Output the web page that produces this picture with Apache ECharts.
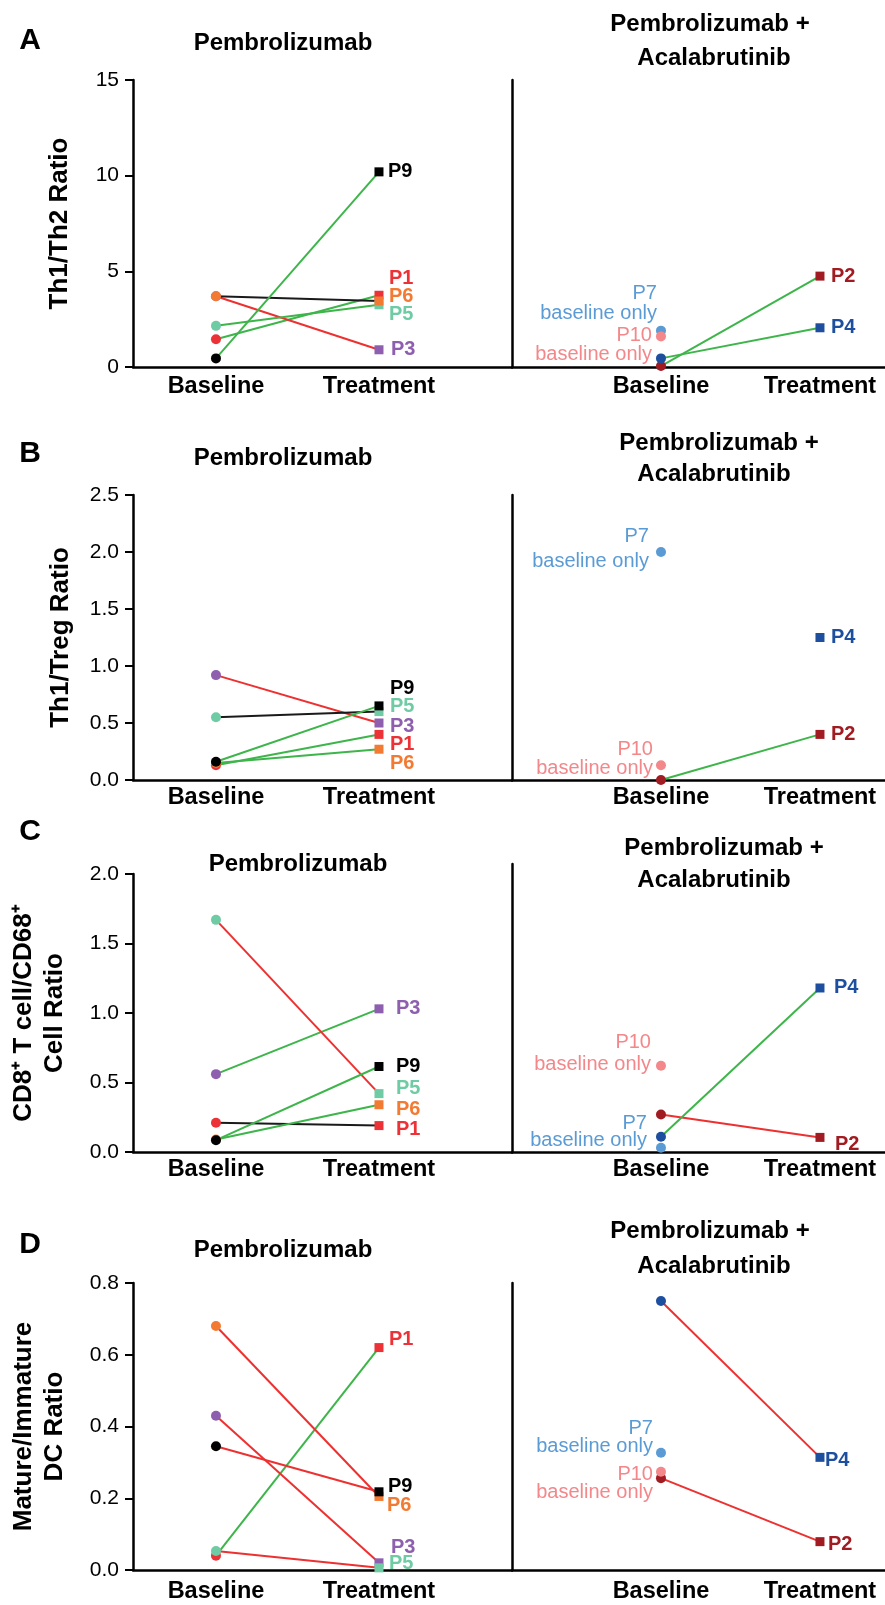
<!DOCTYPE html>
<html><head><meta charset="utf-8">
<script src="https://cdn.jsdelivr.net/npm/echarts@6/dist/echarts.min.js"></script>
<style>html,body{margin:0;padding:0;background:#fff}#chart{width:885px;height:1605px}</style>
</head><body><div id="chart"></div>
<script>
// ---------------- DATA ----------------
const xCategories = ['Baseline', 'Treatment'];

// Panel A: Th1/Th2 Ratio
const aTicks = [0, 5, 10, 15];
const aPembroPatients = ['P1', 'P3', 'P5', 'P6', 'P9'];
const aPembroBaseline = [1.45, 3.7, 2.15, 3.7, 0.45];
const aPembroTreatment = [3.75, 0.9, 3.25, 3.45, 10.2];
const aComboPatients = ['P2', 'P4', 'P7', 'P10'];
const aComboBaseline = [0.05, 0.45, 1.9, 1.6];
const aComboTreatment = [4.75, 2.05, null, null];

// Panel B: Th1/Treg Ratio
const bTicks = [0, 0.5, 1.0, 1.5, 2.0, 2.5];
const bPembroPatients = ['P1', 'P3', 'P5', 'P6', 'P9'];
const bPembroBaseline = [0.13, 0.92, 0.55, 0.15, 0.16];
const bPembroTreatment = [0.40, 0.50, 0.60, 0.27, 0.65];
const bComboPatients = ['P2', 'P4', 'P7', 'P10'];
const bComboBaseline = [0.0, null, 2.0, 0.13];
const bComboTreatment = [0.40, 1.25, null, null];

// Panel C: CD8+ T cell / CD68+ cell ratio
const cTicks = [0, 0.5, 1.0, 1.5, 2.0];
const cPembroPatients = ['P1', 'P3', 'P5', 'P6', 'P9'];
const cPembroBaseline = [0.21, 0.56, 1.67, 0.09, 0.085];
const cPembroTreatment = [0.19, 1.03, 0.42, 0.34, 0.615];
const cComboPatients = ['P2', 'P4', 'P7', 'P10'];
const cComboBaseline = [0.27, 0.11, 0.03, 0.62];
const cComboTreatment = [0.105, 1.18, null, null];

// Panel D: Mature/Immature DC ratio
const dTicks = [0, 0.2, 0.4, 0.6, 0.8];
const dPembroPatients = ['P1', 'P3', 'P5', 'P6', 'P9'];
const dPembroBaseline = [0.04, 0.43, 0.053, 0.68, 0.345];
const dPembroTreatment = [0.62, 0.02, 0.006, 0.205, 0.218];
const dComboPatients = ['P2', 'P4', 'P7', 'P10'];
const dComboBaseline = [0.256, 0.75, 0.327, 0.274];
const dComboTreatment = [0.079, 0.314, null, null];

// ---------------- STYLE / LAYOUT ----------------
const FONT = "'Liberation Sans', Arial, Helvetica, sans-serif";
const patientColors = {
  P1: '#ec3237', P2: '#a01c22', P3: '#8d5fae', P4: '#1e4f9f', P5: '#6fcba4',
  P6: '#f37a32', P7: '#5b9bd5', P9: '#000000', P10: '#f3878a'
};
const trendColors = { up: '#3db54a', down: '#ed3030', flat: '#1a1a1a' };

const panels = [
  { key: 'A', yName: 'Th1/Th2 Ratio', ticks: aTicks,
    left: { patients: aPembroPatients, base: aPembroBaseline, treat: aPembroTreatment },
    right: { patients: aComboPatients, base: aComboBaseline, treat: aComboTreatment } },
  { key: 'B', yName: 'Th1/Treg Ratio', ticks: bTicks,
    left: { patients: bPembroPatients, base: bPembroBaseline, treat: bPembroTreatment },
    right: { patients: bComboPatients, base: bComboBaseline, treat: bComboTreatment } },
  { key: 'C', yName: 'CD8\u207A T cell/CD68\u207A\nCell Ratio', ticks: cTicks,
    left: { patients: cPembroPatients, base: cPembroBaseline, treat: cPembroTreatment },
    right: { patients: cComboPatients, base: cComboBaseline, treat: cComboTreatment } },
  { key: 'D', yName: 'Mature/Immature\nDC Ratio', ticks: dTicks,
    left: { patients: dPembroPatients, base: dPembroBaseline, treat: dPembroTreatment },
    right: { patients: dComboPatients, base: dComboBaseline, treat: dComboTreatment } }
];

const layout = {
  A: { top: 80, height: 287, rTop: 80, rHeight: 287, nameGap: 58, dec: 0, xMargin: 8,
       letterY: 41, titleX: 283, titleY: 43, t1X: 710, t1Y: 24, t2X: 714, t2Y: 58 },
  B: { top: 495, height: 285, rTop: 495, rHeight: 285, nameGap: 57, dec: 1, xMargin: 6,
       letterY: 454, titleX: 283, titleY: 458, t1X: 719, t1Y: 443, t2X: 714, t2Y: 474 },
  C: { top: 874, height: 278, rTop: 864, rHeight: 288, nameGap: 63, dec: 1, xMargin: 6,
       letterY: 832, titleX: 298, titleY: 864, t1X: 724, t1Y: 848, t2X: 714, t2Y: 880 },
  D: { top: 1283, height: 287, rTop: 1283, rHeight: 287, nameGap: 63, dec: 1, xMargin: 10,
       letterY: 1245, titleX: 283, titleY: 1250, t1X: 710, t1Y: 1231, t2X: 714, t2Y: 1266 }
};
// treatment label offsets [dx of left edge from point centre, dy]
const treatLabelOffsets = {
  A: { P1: [10, -17], P3: [12, 0], P5: [10, 10], P6: [10, -5], P9: [9, 0], P2: [11, 0], P4: [11, 0] },
  B: { P9: [11, -17], P5: [11, -5], P3: [11, 3], P1: [11, 10], P6: [11, 14], P4: [11, 0], P2: [11, 0] },
  C: { P3: [17, 0], P9: [17, 0], P5: [17, -5], P6: [17, 5], P1: [17, 4], P4: [14, 0], P2: [15, 7] },
  D: { P1: [10, -8], P9: [9, -5], P6: [8, 9], P3: [12, -15], P5: [10, -4], P4: [5, 3], P2: [8, 3] }
};
// baseline-only label offsets [dx of right edge from centre, dy of block centre, lineHeight]
const baseOnlyOffsets = {
  A: { P7: [-4, -27, 20], P10: [-9, 9, 19] },
  B: { P7: [-12, -3, 25], P10: [-8, -6.5, 19] },
  C: { P7: [-14, -16, 17], P10: [-10, -12, 21.7] },
  D: { P7: [-8, -15, 18], P10: [-8, 12, 18] }
};
const xRangeLeft = { min: -0.509, max: 1.816 };
const xRangeRight = { min: -0.937, max: 1.409 };

// ---------------- BUILD ----------------
const grid = [], xAxis = [], yAxis = [], series = [], graphic = [];

function trendOf(b, t) {
  if (Math.abs(t - b) / Math.max(Math.abs(b), 1e-9) < 0.15) return 'flat';
  return t > b ? 'up' : 'down';
}

panels.forEach((p, k) => {
  const L = layout[p.key];
  const yMin = p.ticks[0], yMax = p.ticks[p.ticks.length - 1];
  const interval = p.ticks[1] - p.ticks[0];
  grid.push({ left: 133, top: L.top, width: 379, height: L.height });
  grid.push({ left: 512, top: L.rTop, width: 373, height: L.rHeight });
  [xRangeLeft, xRangeRight].forEach((r, j) => {
    xAxis.push({
      type: 'value', gridIndex: 2 * k + j, min: r.min, max: r.max,
      axisLine: { show: true, onZero: false, lineStyle: { color: '#000', width: 2.5 } },
      axisTick: { show: false }, splitLine: { show: false },
      axisLabel: {
        customValues: [0, 1],
        formatter: v => (v === 0 || v === 1) ? xCategories[v] : '',
        fontSize: 23.5, fontWeight: 'bold', color: '#000', fontFamily: FONT, margin: L.xMargin
      }
    });
  });
  yAxis.push({
    type: 'value', gridIndex: 2 * k, min: yMin, max: yMax, interval: interval,
    name: p.yName, nameLocation: 'middle', nameRotate: 90, nameGap: L.nameGap,
    nameTextStyle: { fontSize: 26, fontWeight: 'bold', color: '#000', fontFamily: FONT, lineHeight: 31 },
    axisLine: { show: true, onZero: false, lineStyle: { color: '#000', width: 2.5 } },
    axisTick: { show: true, length: 8, lineStyle: { color: '#000', width: 2 } },
    splitLine: { show: false },
    axisLabel: { fontSize: 21, color: '#000', fontFamily: FONT, margin: 14,
                 formatter: v => v.toFixed(L.dec) }
  });
  yAxis.push({
    type: 'value', gridIndex: 2 * k + 1, min: yMin, max: yMax * L.rHeight / L.height,
    axisLine: { show: true, onZero: false, lineStyle: { color: '#000', width: 2.5 } },
    axisTick: { show: false }, axisLabel: { show: false }, splitLine: { show: false }
  });

  [p.left, p.right].forEach((grp, j) => {
    grp.patients.forEach((name, i) => {
      const b = grp.base[i], t = grp.treat[i];
      const color = patientColors[name];
      const data = [];
      const both = b != null && t != null;
      if (b != null) {
        const item = { value: [0, b], symbol: 'circle', symbolSize: 10, itemStyle: { color } };
        if (t == null) {
          const o = baseOnlyOffsets[p.key][name];
          item.label = {
            show: true, formatter: name + '\nbaseline only', position: 'left', distance: 0,
            offset: [o[0] + 5, o[1]], align: 'right', verticalAlign: 'middle',
            fontSize: 20, lineHeight: o[2], color, fontFamily: FONT, fontWeight: 'normal'
          };
        }
        data.push(item);
      }
      if (t != null) {
        const o = treatLabelOffsets[p.key][name];
        data.push({
          value: [1, t], symbol: 'rect', symbolSize: 9, itemStyle: { color },
          label: {
            show: true, formatter: name, position: 'right', distance: 0,
            offset: [o[0] - 4.5, o[1]], align: 'left', verticalAlign: 'middle',
            fontSize: 20, fontWeight: 'bold', color, fontFamily: FONT
          }
        });
      }
      series.push({
        type: 'line', name: p.key + '-' + name, xAxisIndex: 2 * k + j, yAxisIndex: 2 * k + j,
        data, showSymbol: true, showAllSymbol: true, animation: false, silent: true,
        lineStyle: { width: 2, color: both ? trendColors[trendOf(b, t)] : 'transparent' },
        label: { show: false }
      });
    });
  });

  graphic.push({ type: 'text', x: 30, y: L.letterY,
    style: { text: p.key, fill: '#000', fontSize: 30, fontWeight: 'bold', fontFamily: FONT, align: 'center', verticalAlign: 'middle' } });
  graphic.push({ type: 'text', x: L.titleX, y: L.titleY,
    style: { text: 'Pembrolizumab', fill: '#000', fontSize: 24, fontWeight: 'bold', fontFamily: FONT, align: 'center', verticalAlign: 'middle' } });
  graphic.push({ type: 'text', x: L.t1X, y: L.t1Y,
    style: { text: 'Pembrolizumab +', fill: '#000', fontSize: 24, fontWeight: 'bold', fontFamily: FONT, align: 'center', verticalAlign: 'middle' } });
  graphic.push({ type: 'text', x: L.t2X, y: L.t2Y,
    style: { text: 'Acalabrutinib', fill: '#000', fontSize: 24, fontWeight: 'bold', fontFamily: FONT, align: 'center', verticalAlign: 'middle' } });
});

const chart = echarts.init(document.getElementById('chart'), null, { renderer: 'canvas' });
chart.setOption({ backgroundColor: '#fff', animation: false, grid, xAxis, yAxis, series, graphic });
</script></body></html>
